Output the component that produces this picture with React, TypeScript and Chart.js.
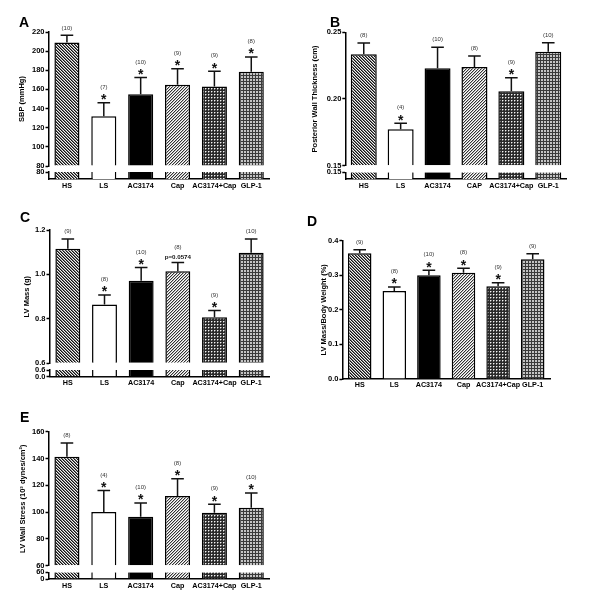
import React, { useEffect, useRef } from "react";
import { Chart, registerables } from "chart.js";

Chart.register(...registerables);

const FONT = "'Liberation Sans', Arial, Helvetica, sans-serif";

// ---- categories ----
const groups = ["HS", "LS", "AC3174", "Cap", "AC3174+Cap", "GLP-1"];
const groupsB = ["HS", "LS", "AC3174", "CAP", "AC3174+Cap", "GLP-1"];
const fills = ["hatchDown", "white", "black", "hatchUp", "dots", "grid"];

// ---- Panel A: SBP ----
const sbpMean = [209, 132, 155, 165, 163, 178.5];
const sbpSem = [7.5, 14, 17.5, 16.5, 16, 15.5];
const sbpN = ["(10)", "(7)", "(10)", "(9)", "(9)", "(8)"];
const sbpMark = ["", "*", "*", "*", "*", "*"];
const sbpTicks = [80, 100, 120, 140, 160, 180, 200, 220];
const sbpLowTicks = [80];

// ---- Panel B: Posterior wall thickness ----
const pwtMean = [0.2335, 0.1773, 0.223, 0.224, 0.2058, 0.2355];
const pwtSem = [0.0085, 0.0045, 0.0158, 0.0082, 0.0102, 0.0067];
const pwtN = ["(8)", "(4)", "(10)", "(8)", "(9)", "(10)"];
const pwtMark = ["", "*", "", "", "*", ""];
const pwtTicks = [0.15, 0.2, 0.25];
const pwtLowTicks = [0.15];

// ---- Panel C: LV mass ----
const lvmMean = [1.116, 0.865, 0.972, 1.014, 0.807, 1.098];
const lvmSem = [0.043, 0.042, 0.059, 0.04, 0.031, 0.061];
const lvmN = ["(9)", "(8)", "(10)", "(8)", "(9)", "(10)"];
const lvmMark = ["", "*", "*", "p=0.0574", "*", ""];
const lvmTicks = [0.6, 0.8, 1.0, 1.2];
const lvmLowTicks = [0, 0.6];

// ---- Panel D: LV mass / body weight ----
const lvbwMean = [0.3635, 0.2545, 0.3, 0.307, 0.268, 0.346];
const lvbwSem = [0.0105, 0.0114, 0.0145, 0.0132, 0.0106, 0.0164];
const lvbwN = ["(9)", "(8)", "(10)", "(8)", "(9)", "(9)"];
const lvbwMark = ["", "*", "*", "*", "*", ""];
const lvbwTicks = [0, 0.1, 0.2, 0.3, 0.4];

// ---- Panel E: LV wall stress ----
const wsMean = [141.3, 100, 96.5, 112, 99.6, 103.3];
const wsSem = [10.3, 16.2, 10.3, 12.9, 6.3, 11];
const wsN = ["(8)", "(4)", "(10)", "(8)", "(9)", "(10)"];
const wsMark = ["", "*", "*", "*", "*", "*"];
const wsTicks = [60, 80, 100, 120, 140, 160];
const wsLowTicks = [0, 60];

type Panel = {
  x0: number; y0: number; w: number; h: number;
  letter: string; letterX: number; letterY: number;
  labels: string[]; mean: number[]; sem: number[]; n: string[]; mark: string[];
  title: string; titleX: number;
  ticks: number[]; lowTicks: number[] | null; dec: number;
  l: number; r: number; t: number; b: number;
  split: number[] | null;
  bar: number;
  xLab: number;
};

const panels: Panel[] = [
  {
    x0: 0, y0: 0, w: 300, h: 200, letter: "A", letterX: 19, letterY: 23,
    labels: groups, mean: sbpMean, sem: sbpSem, n: sbpN, mark: sbpMark,
    title: "SBP (mmHg)", titleX: 22, ticks: sbpTicks, lowTicks: sbpLowTicks, dec: 0,
    l: 48.5, r: 269.7, t: 32, b: 179, split: [134, 6, 7], bar: 0.68, xLab: 186,
  },
  {
    x0: 300, y0: 0, w: 300, h: 200, letter: "B", letterX: 30, letterY: 23,
    labels: groupsB, mean: pwtMean, sem: pwtSem, n: pwtN, mark: pwtMark,
    title: "Posterior Wall Thickness (cm)", titleX: 15, ticks: pwtTicks, lowTicks: pwtLowTicks, dec: 2,
    l: 45.3, r: 266.7, t: 32.3, b: 179, split: [133.4, 6.6, 6.7], bar: 0.705, xLab: 186,
  },
  {
    x0: 0, y0: 200, w: 300, h: 200, letter: "C", letterX: 20, letterY: 18,
    labels: groups, mean: lvmMean, sem: lvmSem, n: lvmN, mark: lvmMark,
    title: "LV Mass (g)", titleX: 27, ticks: lvmTicks, lowTicks: lvmLowTicks, dec: 1,
    l: 49.5, r: 269.5, t: 30, b: 176.7, split: [133.3, 6.7, 6.7], bar: 0.68, xLab: 183.3,
  },
  {
    x0: 300, y0: 200, w: 300, h: 200, letter: "D", letterX: 7, letterY: 22,
    labels: groups, mean: lvbwMean, sem: lvbwSem, n: lvbwN, mark: lvbwMark,
    title: "LV Mass/Body Weight (%)", titleX: 24, ticks: lvbwTicks, lowTicks: null, dec: 1,
    l: 42.4, r: 250, t: 40.7, b: 179, split: null, bar: 0.68, xLab: 185,
  },
  {
    x0: 0, y0: 400, w: 300, h: 212, letter: "E", letterX: 20, letterY: 18,
    labels: groups, mean: wsMean, sem: wsSem, n: wsN, mark: wsMark,
    title: "LV Wall Stress (10\u00B3 dynes/cm\u00B2)", titleX: 23, ticks: wsTicks, lowTicks: wsLowTicks, dec: 0,
    l: 48.5, r: 269.7, t: 31.7, b: 179, split: [134, 6.6, 6.7], bar: 0.68, xLab: 186,
  },
];

function makeFill(kind: string): any {
  if (kind === "white") return "#ffffff";
  if (kind === "black") return "#000000";
  const c = document.createElement("canvas");
  c.width = 3;
  c.height = 3;
  const g = c.getContext("2d")!;
  const px = (x: number, y: number, col: string) => {
    g.fillStyle = col;
    g.fillRect(x, y, 1, 1);
  };
  for (let y = 0; y < 3; y++) {
    for (let x = 0; x < 3; x++) {
      let col = "#fff";
      if (kind === "hatchDown") {
        const d = (x - y + 3) % 3;
        col = d === 0 ? "#111" : d === 1 ? "#777" : "#f2f2f2";
      } else if (kind === "hatchUp") {
        const d = (x + y) % 3;
        col = d === 0 ? "#333" : d === 1 ? "#b8b8b8" : "#ffffff";
      } else if (kind === "dots") {
        col = "#2a2a2a";
        if (x === 1 && y === 1) col = "#f4f4f4";
        else if ((x === 2 && y === 1) || (x === 1 && y === 2)) col = "#808080";
      } else if (kind === "grid") {
        col = x === 0 || y === 0 ? "#3a3a3a" : "#c4c4c4";
      }
      px(x, y, col);
    }
  }
  return g.createPattern(c, "repeat");
}

function annotPlugin(p: Panel) {
  return {
    id: "annot" + p.letter,
    afterDatasetsDraw(chart: any) {
      const ctx = chart.ctx as CanvasRenderingContext2D;
      const xs = chart.scales.x;
      const ys = chart.scales.y;
      ctx.save();
      ctx.textAlign = "center";
      p.mean.forEach((m, i) => {
        const x = xs.getPixelForValue(i);
        const yCap = ys.getPixelForValue(m + p.sem[i]);
        const mk = p.mark[i];
        let nY = yCap - 7.5;
        if (mk === "*") {
          ctx.font = `bold 14px ${FONT}`;
          ctx.fillStyle = "#111";
          ctx.textBaseline = "alphabetic";
          ctx.fillText("*", x, yCap - 6.5 + 0.56 * 14);
          nY = yCap - 15.5;
        } else if (mk) {
          ctx.font = `bold 6.2px ${FONT}`;
          ctx.fillStyle = "#111";
          ctx.textBaseline = "middle";
          ctx.fillText(mk, x, yCap - 5.6);
          nY = yCap - 15.5;
        }
        ctx.font = `6px ${FONT}`;
        ctx.fillStyle = "#333";
        ctx.textBaseline = "middle";
        ctx.fillText(p.n[i], x, nY);
      });
      ctx.font = `bold 14px ${FONT}`;
      ctx.fillStyle = "#000";
      ctx.textAlign = "left";
      ctx.textBaseline = "middle";
      ctx.fillText(p.letter, p.letterX, p.letterY);
      ctx.restore();
    },
  };
}

function buildChart(canvas: HTMLCanvasElement, p: Panel) {
  const pats = fills.map(makeFill);
  const xH = 14;
  const yW = p.l;
  const upMin = p.ticks[0];
  const upMax = p.ticks[p.ticks.length - 1];
  const tops = p.mean.map((m, i) => m + p.sem[i]);
  const tickFont = { family: FONT, size: 7.5, weight: "bold" as const };
  const lineH = 7.5 * 1.2;

  const yCommon = {
    type: "linear" as const,
    position: "left" as const,
    grid: { display: true, drawOnChartArea: false, drawTicks: true, tickLength: 3, tickWidth: 1.5, color: "#000" },
    border: { display: true, color: "#000", width: 1.5 },
    ticks: {
      font: tickFont,
      color: "#000",
      padding: 1,
      autoSkip: false,
      callback: (v: any) => Number(v).toFixed(p.dec),
    },
    afterFit: (s: any) => {
      s.width = yW;
    },
  };

  const datasets: any[] = [
    {
      type: "bar",
      data: p.mean,
      yAxisID: "y",
      base: upMin,
      backgroundColor: pats,
      borderColor: "#000",
      borderWidth: 1.5,
      borderSkipped: "start",
      grouped: false,
      barPercentage: p.bar,
      categoryPercentage: 1,
      order: 3,
    },
    {
      type: "bar",
      data: p.mean.map((m, i) => [m, tops[i]]),
      yAxisID: "y",
      backgroundColor: "#111",
      borderWidth: 0,
      grouped: false,
      maxBarThickness: 1.5,
      order: 2,
    },
    {
      type: "line",
      data: tops,
      yAxisID: "y",
      showLine: false,
      pointStyle: "line",
      pointRadius: 6.3,
      pointHoverRadius: 6.3,
      pointBorderWidth: 1.5,
      pointBorderColor: "#111",
      pointBackgroundColor: "#111",
      borderColor: "#111",
      order: 1,
    },
  ];

  const scales: any = {
    x: {
      type: "category",
      offset: true,
      grid: { display: false, drawTicks: false },
      border: { display: true, color: "#000", width: 1.5 },
      ticks: {
        font: { family: FONT, size: 7.2, weight: "bold" },
        color: "#000",
        padding: p.xLab - p.b - 7.2 * 1.2 / 2,
        autoSkip: false,
        maxRotation: 0,
        minRotation: 0,
      },
      afterFit: (s: any) => {
        s.height = xH;
      },
    },
    y: {
      ...yCommon,
      min: upMin,
      max: upMax,
      weight: 3,
      afterBuildTicks: (s: any) => {
        s.ticks = p.ticks.map((v) => ({ value: v }));
      },
      title: {
        display: true,
        text: p.title,
        color: "#000",
        font: { family: FONT, size: 7.5, weight: "bold" },
        padding: { top: p.titleX - lineH / 2, bottom: 0 },
      },
    },
  };

  if (p.split && p.lowTicks) {
    const low = p.lowTicks;
    scales.y.stack = "v";
    scales.y.stackWeight = p.split[0];
    scales.yGap = {
      type: "linear",
      position: "left",
      display: false,
      stack: "v",
      stackWeight: p.split[1],
      weight: 2,
      afterFit: (s: any) => {
        s.width = yW;
      },
    };
    scales.yLow = {
      ...yCommon,
      stack: "v",
      stackWeight: p.split[2],
      weight: 1,
      min: 0,
      max: upMin,
      afterBuildTicks: (s: any) => {
        s.ticks = low.map((v) => ({ value: v }));
      },
    };
    datasets.push({
      type: "bar",
      data: p.labels.map(() => upMin),
      yAxisID: "yLow",
      backgroundColor: pats,
      borderColor: "#000",
      borderWidth: { left: 1.5, right: 1.5, top: 0, bottom: 0 },
      borderSkipped: false,
      grouped: false,
      barPercentage: p.bar,
      categoryPercentage: 1,
      order: 3,
    });
  }

  return new Chart(canvas, {
    type: "bar",
    data: { labels: p.labels, datasets },
    options: {
      responsive: false,
      maintainAspectRatio: false,
      animation: false,
      devicePixelRatio: 1,
      layout: {
        padding: { left: 0, top: p.t, right: p.w - p.r, bottom: p.h - p.b - xH },
      },
      plugins: {
        legend: { display: false },
        tooltip: { enabled: false },
        title: { display: false },
      },
      events: [],
      scales,
    },
    plugins: [annotPlugin(p)],
  } as any);
}

export default function App() {
  const refs = useRef<(HTMLCanvasElement | null)[]>([]);
  useEffect(() => {
    const charts = panels.map((p, i) => buildChart(refs.current[i] as HTMLCanvasElement, p));
    return () => charts.forEach((c) => c.destroy());
  }, []);
  return (
    <div style={{ position: "absolute", left: 0, top: 0, width: 600, height: 612, background: "#fff" }}>
      {panels.map((p, i) => (
        <canvas
          key={p.letter}
          ref={(el) => {
            refs.current[i] = el;
          }}
          width={p.w}
          height={p.h}
          style={{ position: "absolute", left: p.x0, top: p.y0, width: p.w, height: p.h }}
        />
      ))}
    </div>
  );
}
